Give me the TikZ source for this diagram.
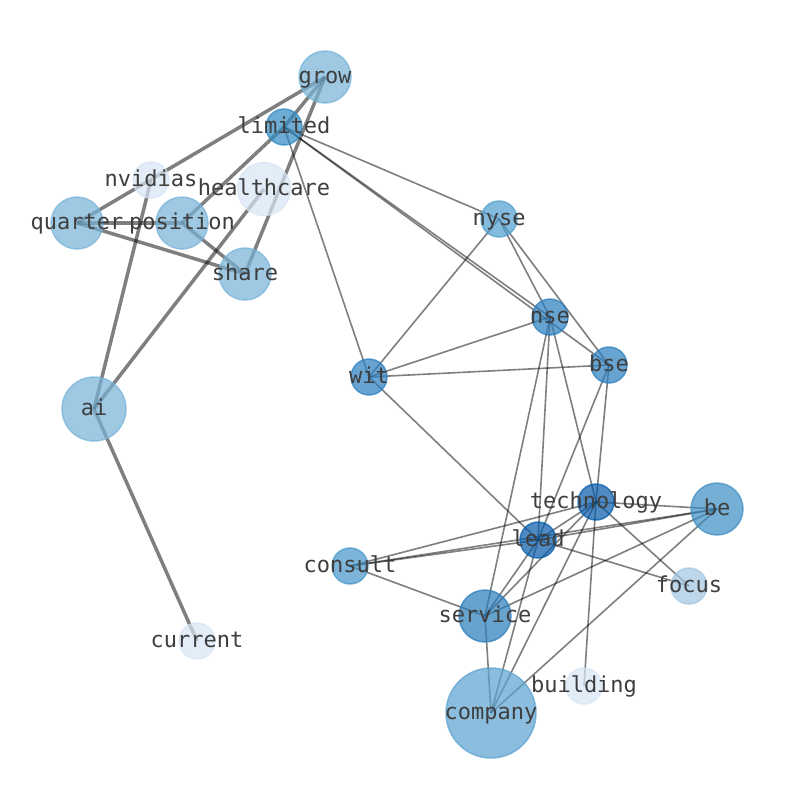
\documentclass[tikz,border=0pt]{standalone}
\usepackage{fontspec}
\setmonofont{DejaVu Sans Mono}
\usetikzlibrary{backgrounds}
\definecolor{cLight}{RGB}{119,179,216}
\definecolor{cLim}{RGB}{48,137,194}
\definecolor{cNyse}{RGB}{79,159,208}
\definecolor{cMid}{RGB}{41,126,191}
\definecolor{cDark}{RGB}{5,91,169}
\definecolor{cBe}{RGB}{60,142,196}
\definecolor{cCons}{RGB}{69,151,202}
\definecolor{cFocus}{RGB}{162,198,226}
\definecolor{cServ}{RGB}{41,124,186}
\definecolor{cComp}{RGB}{91,162,208}
\definecolor{cPale}{RGB}{216,230,245}
\definecolor{txt}{RGB}{62,62,62}
\tikzset{
  vert/.style={circle, inner sep=0pt, outer sep=0pt, minimum size=#1, line width=1.5pt, fill opacity=0.7, draw opacity=0.7},
  lbl/.style={anchor=base, inner sep=0pt, text=txt, font=\ttfamily\fontsize{22}{26}\selectfont},
  thickedge/.style={draw=black, draw opacity=0.5, line width=3.5pt},
  thinedge/.style={draw=black, draw opacity=0.5, line width=1.6pt}
}
\newcommand{\vtx}[6]{%
  \node[vert=#4, fill=#5, draw=#5] (#1) at (#2,#3) {};
  \node[lbl] (t-#1) at ([yshift=-6.5pt]#1.center) {#6};}
\begin{document}
\begin{tikzpicture}[x=1pt,y=-1pt]
\useasboundingbox (0,0) rectangle (794,790);
\vtx{grow}{325}{77}{52pt}{cLight}{grow}
\vtx{limited}{284}{127}{36pt}{cLim}{limited}
\vtx{nvidias}{151}{180}{36pt}{cPale}{nvidias}
\vtx{healthcare}{264}{189}{53pt}{cPale}{healthcare}
\vtx{quarter}{77}{223}{52pt}{cLight}{quarter}
\vtx{position}{182}{223}{52pt}{cLight}{position}
\vtx{share}{245}{274}{52pt}{cLight}{share}
\vtx{nyse}{499}{219}{36pt}{cNyse}{nyse}
\vtx{nse}{550}{317}{36pt}{cMid}{nse}
\vtx{bse}{609}{365}{36pt}{cMid}{bse}
\vtx{wit}{369}{377}{36pt}{cMid}{wit}
\vtx{ai}{94}{409}{64pt}{cLight}{ai}
\vtx{technology}{596}{502}{36pt}{cDark}{technology}
\vtx{be}{717}{509}{52pt}{cBe}{be}
\vtx{lead}{538}{540}{36pt}{cDark}{lead}
\vtx{consult}{350}{566}{36pt}{cCons}{consult}
\vtx{focus}{689}{586}{36pt}{cFocus}{focus}
\vtx{service}{485}{616}{52pt}{cServ}{service}
\vtx{current}{197}{641}{36pt}{cPale}{current}
\vtx{building}{584}{686}{36pt}{cPale}{building}
\vtx{company}{491}{713}{90pt}{cComp}{company}
\begin{scope}[on background layer]
\fill[white] (0,0) rectangle (794,790);
\foreach \a/\b in {grow/quarter, grow/limited, limited/position, grow/share,
  quarter/position, quarter/share, position/share, ai/nvidias, ai/healthcare, ai/current}
  \draw[thickedge] (\a.center) -- (\b.center);
\foreach \a/\b in {limited/wit, limited/nyse, limited/nse, limited/bse,
  nyse/wit, nyse/nse, nyse/bse, wit/nse, wit/bse, wit/lead,
  nse/service, nse/lead, nse/technology, bse/lead, bse/technology,
  technology/building, technology/be, technology/focus, technology/lead,
  technology/consult, technology/service, technology/company,
  lead/be, lead/focus, lead/consult, lead/service, lead/company,
  consult/be, consult/service, service/be, service/company, company/be}
  \draw[thinedge] (\a.center) -- (\b.center);
\end{scope}
\end{tikzpicture}
\end{document}
